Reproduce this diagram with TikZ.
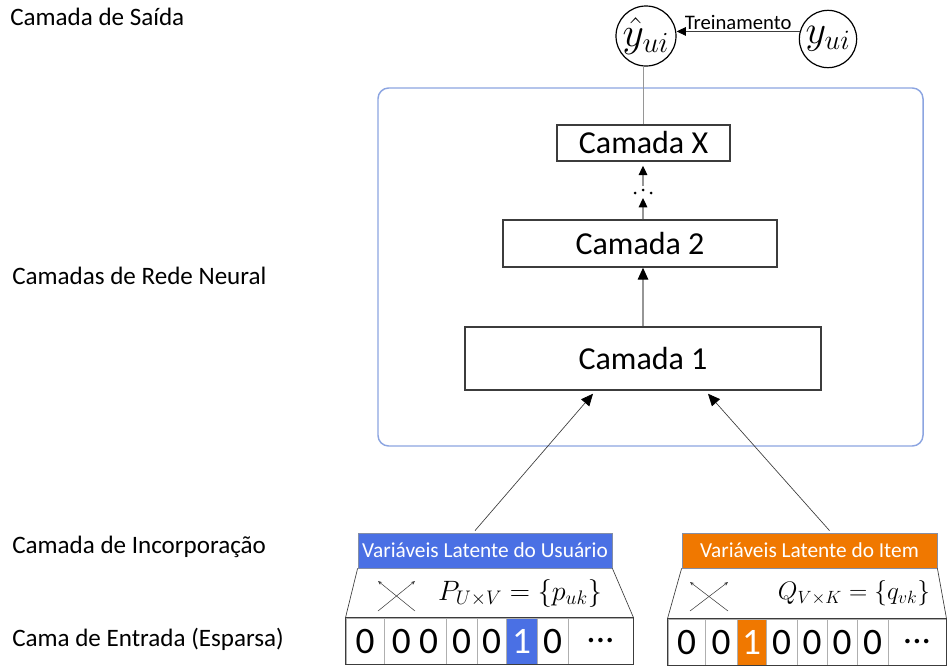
\IfFileExists{fix-cm.sty}{\RequirePackage{fix-cm}}{}
\documentclass[tikz,border=0pt]{standalone}
\usepackage{fontspec}
\setmainfont{Carlito}
\usetikzlibrary{arrows.meta,calc}
\definecolor{ublue}{RGB}{74,112,228}
\definecolor{iorange}{RGB}{240,120,0}
\definecolor{frameblue}{RGB}{140,165,225}
\definecolor{lgray}{RGB}{150,150,150}
\definecolor{cellgray}{RGB}{175,175,175}
\definecolor{dgray}{RGB}{60,60,60}
\begin{document}
\begin{tikzpicture}[x=0.75pt,y=-0.75pt,
  side/.style={anchor=west, inner sep=0pt, font=\fontsize{18.8}{22}\selectfont},
  layer/.style={draw=dgray, line width=1.1pt, fill=white, inner sep=0pt, font=\fontsize{24}{28}\selectfont},
  circ/.style={circle, draw=black, line width=0.9pt, inner sep=0pt, font=\fontsize{24}{28}\selectfont},
  conn/.style={draw=lgray, line width=0.8pt},
  arr/.style={conn, -{Triangle[length=9pt,width=8pt,color=black]}},
  sarr/.style={conn, -{Triangle[length=7pt,width=6.5pt,color=black]}},
  thin/.style={draw=dgray, line width=0.5pt},
  xarr/.style={draw=dgray, line width=0.4pt, -{Stealth[length=3pt,width=2.5pt]}},
  latent/.style={draw=frameblue!40!gray, line width=0.6pt, inner sep=0pt, text=white,
    minimum height=26.25pt, font=\fontsize{16}{19}\selectfont},
  cell/.style={draw=cellgray, line width=0.7pt, inner sep=0pt, minimum height=34.5pt,
    font=\fontsize{28}{32}\selectfont},
  formula/.style={inner sep=0pt, font=\fontsize{21}{25}\selectfont}
]
\useasboundingbox (0,0) rectangle (948,668);

% side labels
\node[side] (l1) at (10,17) {Camada de Saída};
\node[side] (l2) at (12,276) {Camadas de Rede Neural};
\node[side] (l3) at (12,547) {Camada de Incorporação};
\node[side] (l4) at (12,639) {Cama de Entrada (Esparsa)};

% frame
\draw[frameblue, line width=1.1pt, rounded corners=8pt] (378,88) rectangle (923,446);

% layers
\node[layer, minimum width=129.75pt, minimum height=27pt] (cx) at (643.5,143) {Camada X};
\node[layer, minimum width=205.5pt, minimum height=35.25pt] (c2) at (640,243.5) {Camada 2};
\node[layer, minimum width=267pt, minimum height=47.25pt] (c1) at (643,358.5) {Camada 1};

% output circles
\node[circ, minimum size=45pt] (yhat) at (646,36) {\scalebox{1.3}{$\hat{y}_{ui}$}};
\node[circ, minimum size=43pt] (y) at (828,39) {\scalebox{1.25}{$y_{ui}$}};
\draw[sarr, draw=dgray, line width=0.6pt] (y.165) -- (yhat.east |- y.165)
  node[midway, above=1pt, font=\fontsize{15.5}{18}\selectfont, inner sep=0pt] {Treinamento};
\draw[conn] (yhat.south -| cx.north) -- (cx.north);

% inner connectors
\draw[arr] (c1.north -| 643,0) -- (c2.south -| 643,0);
\coordinate (dlo) at (643,198);
\coordinate (dhi) at (643,186);
\draw[sarr] (c2.north -| 643,0) -- (dlo);
\fill (635,193) circle (1.5) (643,190) circle (1.5) (651,193) circle (1.5);
\draw[sarr] (dhi) -- ($(cx.south -| 643,0)+(0,4)$);

% latent boxes
\node[latent, fill=ublue, minimum width=190.5pt] (ubox) at (485,550.5) {Variáveis Latente do Usuário};
\node[latent, fill=iorange, minimum width=191.25pt] (ibox) at (809.5,550.5) {Variáveis Latente do Item};

\coordinate (t1) at ($(c1.south)+(-50,3)$);
\coordinate (t2) at ($(c1.south)+(65,3)$);
\draw[arr, draw=dgray, line width=0.5pt] ($(ubox.north)+(-10,-2)$) -- (t1);
\draw[arr, draw=dgray, line width=0.5pt] ($(ibox.north)+(20,-2)$) -- (t2);

% user input cells
\foreach \a/\b/\t/\f/\c [count=\i] in {346/384/0/white/black, 384/446/0 0/white/black, 446/477/0/white/black, 477/506/0/white/black, 506/537/1/ublue/white, 537/568/0/white/black}
  \node[cell, fill=\f, text=\c, minimum width={(\b-\a)*0.75pt}] (u\i) at ({(\a+\b)/2},641) {\t};
\node[cell, minimum width={65*0.75pt}] (u7) at (600.5,641) {...};
\draw[dgray, line width=0.8pt] (u1.north west) rectangle (u7.south east);

% item input cells
\foreach \a/\b/\t/\f/\c [count=\i] in {668/705/0/white/black, 705/737/0/white/black, 737/766/1/iorange/white, 766/797/0/white/black, 797/827/0/white/black, 827/857/0/white/black, 857/888/0/white/black}
  \node[cell, fill=\f, text=\c, minimum width={(\b-\a)*0.75pt}] (v\i) at ({(\a+\b)/2},642) {\t};
\node[cell, minimum width={58*0.75pt}] (v8) at (917,642) {...};
\draw[dgray, line width=0.8pt] (v1.north west) rectangle (v8.south east);

% trapezoid sides
\draw[thin] (ubox.south west) -- (u1.north west);
\draw[thin] (ubox.south east) -- (u7.north east);
\draw[thin] (ibox.south west) -- (v1.north west);
\draw[thin] (ibox.south east) -- (v8.north east);

% crosses
\draw[xarr] (378,611) -- (415,581);
\draw[xarr] (415,611) -- (378,581);
\draw[xarr] (690,611) -- (728,582);
\draw[xarr] (728,611) -- (690,582);

% formulas
\node[formula] (fp) at (520,593) {$P_{U\times V} = \{p_{uk}\}$};
\node[formula, font=\fontsize{19}{23}\selectfont] (fq) at (854,593) {$Q_{V\times K} = \{q_{vk}\}$};
\end{tikzpicture}
\end{document}
